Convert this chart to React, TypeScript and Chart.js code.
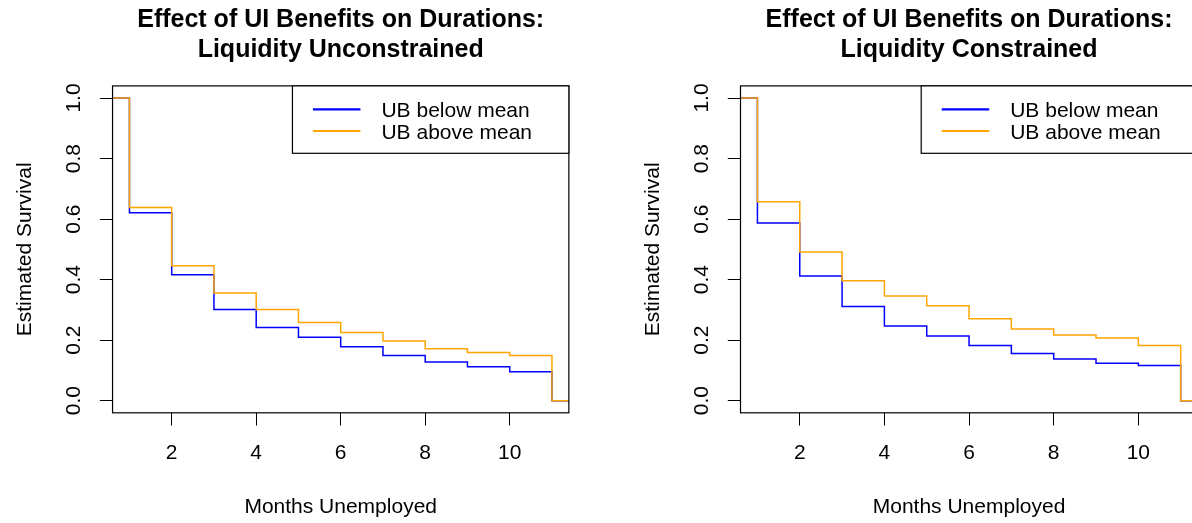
import React, { useEffect, useRef } from 'react';
import { Chart, registerables } from 'chart.js';

Chart.register(...registerables);

// ---- data ----
const months = [0, 1, 2, 3, 4, 5, 6, 7, 8, 9, 10, 11, 12];
const xTickValues = [2, 4, 6, 8, 10];
const yTickValues = [0, 0.2, 0.4, 0.6, 0.8, 1.0];

const unconstrainedBelow = [1.0, 0.621, 0.416, 0.301, 0.242, 0.21, 0.178, 0.149, 0.128, 0.112, 0.096, 0, 0];
const unconstrainedAbove = [1.0, 0.638, 0.446, 0.356, 0.301, 0.258, 0.225, 0.197, 0.172, 0.159, 0.149, 0, 0];
const constrainedBelow = [1.0, 0.587, 0.412, 0.311, 0.247, 0.214, 0.182, 0.156, 0.138, 0.124, 0.116, 0, 0];
const constrainedAbove = [1.0, 0.657, 0.491, 0.396, 0.346, 0.314, 0.271, 0.237, 0.217, 0.207, 0.182, 0, 0];

const seriesLabels = ['UB below mean', 'UB above mean'];
const titleLine1 = 'Effect of UI Benefits on Durations:';
const panelSubtitles = ['Liquidity Unconstrained', 'Liquidity Constrained'];
const xTitle = 'Months Unemployed';
const yTitle = 'Estimated Survival';

const X_MIN = 0.6;
const X_MAX = 11.4;
const Y_MIN = -0.04;
const Y_MAX = 1.04;

const BLUE = '#0000FF';
const ORANGE = '#FFA500';
const FONT = '"Liberation Sans", Arial, Helvetica, sans-serif';
const H = 523;
const PLOT_TOP = 85.9;
const PLOT_BOTTOM = 412.8;

type PanelProps = {
  left: number;
  width: number;
  plotLeft: number;
  plotRight: number;
  subtitle: string;
  below: number[];
  above: number[];
};

function Panel({ left, width, plotLeft, plotRight, subtitle, below, above }: PanelProps) {
  const ref = useRef<HTMLCanvasElement>(null);

  useEffect(() => {
    const canvas = ref.current;
    if (!canvas) return;

    const annotate = {
      id: 'rAnnotations',
      afterDatasetsDraw(chart: any) {
        const ctx = chart.ctx as CanvasRenderingContext2D;
        const a = chart.chartArea;
        ctx.save();
        // plot box
        ctx.strokeStyle = '#000';
        ctx.lineWidth = 1.2;
        ctx.strokeRect(a.left, a.top, a.right - a.left, a.bottom - a.top);

        // legend
        const lw = 276.4;
        const lh = 67.4;
        const lx = a.right - lw;
        const ly = a.top;
        ctx.fillStyle = '#fff';
        ctx.fillRect(lx, ly, lw, lh);
        ctx.strokeStyle = '#000';
        ctx.lineWidth = 1.2;
        ctx.strokeRect(lx, ly, lw, lh);
        const colors = [BLUE, ORANGE];
        seriesLabels.forEach((label, i) => {
          const y = ly + 23.4 + i * 21.7;
          ctx.strokeStyle = colors[i];
          ctx.lineWidth = 2.2;
          ctx.beginPath();
          ctx.moveTo(lx + 20.5, y);
          ctx.lineTo(lx + 68, y);
          ctx.stroke();
          ctx.fillStyle = '#000';
          ctx.font = `21px ${FONT}`;
          ctx.textAlign = 'left';
          ctx.textBaseline = 'alphabetic';
          ctx.fillText(label, lx + 89, y + 7.5);
        });

        // titles
        const cx = (a.left + a.right) / 2;
        ctx.fillStyle = '#000';
        ctx.textAlign = 'center';
        ctx.textBaseline = 'alphabetic';
        ctx.font = `bold 25px ${FONT}`;
        ctx.fillText(titleLine1, cx, 26.5);
        ctx.fillText(subtitle, cx, 57);
        ctx.font = `21px ${FONT}`;
        ctx.fillText(xTitle, cx, 513.3);
        ctx.save();
        ctx.translate(a.left - 81.85, (a.top + a.bottom) / 2);
        ctx.rotate(-Math.PI / 2);
        ctx.fillText(yTitle, 0, 0);
        ctx.restore();
        ctx.restore();
      },
    };

    const chart = new Chart(canvas, {
      type: 'line',
      data: {
        datasets: [
          {
            label: seriesLabels[1],
            data: months.map((m, i) => ({ x: m, y: above[i] })),
            borderColor: ORANGE,
            backgroundColor: ORANGE,
          },
          {
            label: seriesLabels[0],
            data: months.map((m, i) => ({ x: m, y: below[i] })),
            borderColor: BLUE,
            backgroundColor: BLUE,
          },
        ],
      },
      options: {
        responsive: false,
        animation: false,
        devicePixelRatio: 1,
        events: [],
        layout: { padding: { left: 0, top: PLOT_TOP, right: width - plotRight, bottom: 0 } },
        plugins: {
          legend: { display: false },
          title: { display: false },
          tooltip: { enabled: false },
        },
        elements: {
          point: { radius: 0 },
          line: { borderWidth: 1.5, stepped: true, tension: 0, fill: false },
        },
        scales: {
          x: {
            type: 'linear',
            min: X_MIN,
            max: X_MAX,
            afterFit: (s: any) => {
              s.height = H - PLOT_BOTTOM;
            },
            afterBuildTicks: (s: any) => {
              s.ticks = xTickValues.map((v) => ({ value: v }));
            },
            grid: {
              display: true,
              drawOnChartArea: false,
              drawTicks: true,
              tickLength: 12.7,
              tickColor: '#000',
              tickWidth: 1,
            },
            border: { display: false },
            ticks: {
              color: '#000',
              font: { family: FONT, size: 21 },
              padding: 15.6,
              maxRotation: 0,
              minRotation: 0,
              autoSkip: false,
              callback: (v: any) => String(v),
            },
          },
          y: {
            type: 'linear',
            min: Y_MIN,
            max: Y_MAX,
            afterFit: (s: any) => {
              s.width = plotLeft;
            },
            afterBuildTicks: (s: any) => {
              s.ticks = yTickValues.map((v) => ({ value: v }));
            },
            grid: {
              display: true,
              drawOnChartArea: false,
              drawTicks: true,
              tickLength: 12.7,
              tickColor: '#000',
              tickWidth: 1,
            },
            border: { display: false },
            ticks: {
              color: '#000',
              font: { family: FONT, size: 21 },
              padding: 10.85,
              minRotation: 90,
              maxRotation: 90,
              crossAlign: 'center',
              autoSkip: false,
              callback: (v: any) => Number(v).toFixed(1),
            },
          },
        },
      },
      plugins: [annotate],
    } as any);

    return () => chart.destroy();
  }, [left, width, plotLeft, plotRight, subtitle, below, above]);

  return (
    <canvas
      ref={ref}
      width={width}
      height={H}
      style={{ position: 'absolute', left, top: 0, width, height: H, display: 'block' }}
    />
  );
}

export default function App() {
  return (
    <div
      style={{
        position: 'fixed',
        left: 0,
        top: 0,
        width: 1192,
        height: H,
        overflow: 'hidden',
        background: '#fff',
      }}
    >
      <Panel
        left={0}
        width={596}
        plotLeft={112.55}
        plotRight={568.85}
        subtitle={panelSubtitles[0]}
        below={unconstrainedBelow}
        above={unconstrainedAbove}
      />
      <Panel
        left={596}
        width={620}
        plotLeft={144.5}
        plotRight={601.6}
        subtitle={panelSubtitles[1]}
        below={constrainedBelow}
        above={constrainedAbove}
      />
    </div>
  );
}
